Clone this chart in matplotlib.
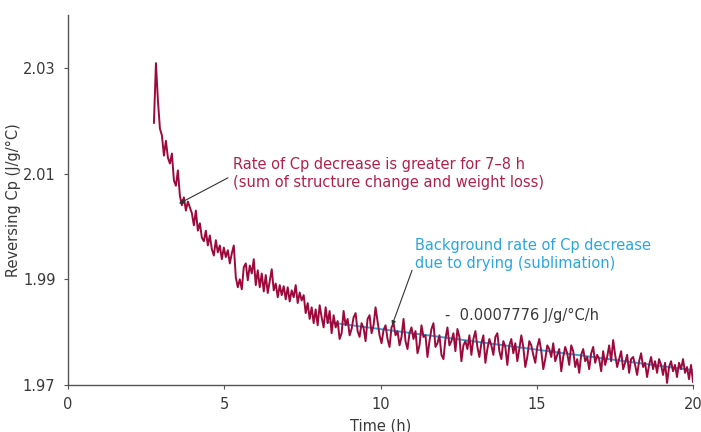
import matplotlib.pyplot as plt
import numpy as np

# reversing Cp trace, evenly sampled from 2.75 h to 20 h
cp = [
    2.0196, 2.0309, 2.0238, 2.0185, 2.0172, 2.0134, 2.0162, 2.0130, 2.0119, 2.0138,
    2.0087, 2.0077, 2.0106, 2.0058, 2.0040, 2.0055, 2.0030, 2.0047, 2.0036, 2.0025,
    2.0002, 2.0030, 1.9992, 2.0006, 1.9979, 1.9972, 1.9992, 1.9964, 1.9983, 1.9957,
    1.9945, 1.9974, 1.9951, 1.9964, 1.9938, 1.9960, 1.9942, 1.9955, 1.9930, 1.9949,
    1.9964, 1.9904, 1.9885, 1.9900, 1.9881, 1.9923, 1.9930, 1.9898, 1.9926, 1.9911,
    1.9938, 1.9889, 1.9917, 1.9885, 1.9911, 1.9877, 1.9908, 1.9874, 1.9896, 1.9919,
    1.9879, 1.9892, 1.9866, 1.9889, 1.9870, 1.9887, 1.9862, 1.9885, 1.9858, 1.9879,
    1.9866, 1.9889, 1.9855, 1.9875, 1.9860, 1.9870, 1.9836, 1.9855, 1.9825, 1.9847,
    1.9817, 1.9843, 1.9813, 1.9851, 1.9828, 1.9809, 1.9847, 1.9817, 1.9840, 1.9798,
    1.9832, 1.9809, 1.9821, 1.9787, 1.9798, 1.9840, 1.9813, 1.9825, 1.9794, 1.9806,
    1.9828, 1.9836, 1.9802, 1.9791, 1.9817, 1.9808, 1.9783, 1.9825, 1.9832, 1.9798,
    1.9813, 1.9847, 1.9821, 1.9794, 1.9779, 1.9804, 1.9813, 1.9787, 1.9772, 1.9809,
    1.9817, 1.9794, 1.9802, 1.9775, 1.9791, 1.9825, 1.9783, 1.9768, 1.9798, 1.9809,
    1.9787, 1.9802, 1.9760, 1.9775, 1.9813, 1.9791, 1.9794, 1.9753, 1.9783, 1.9806,
    1.9817, 1.9772, 1.9779, 1.9794, 1.9757, 1.9749, 1.9787, 1.9809, 1.9775, 1.9783,
    1.9798, 1.9764, 1.9806, 1.9791, 1.9745, 1.9775, 1.9783, 1.9768, 1.9794, 1.9757,
    1.9787, 1.9802, 1.9772, 1.9753, 1.9779, 1.9794, 1.9742, 1.9768, 1.9787, 1.9775,
    1.9757, 1.9791, 1.9798, 1.9764, 1.9749, 1.9783, 1.9772, 1.9738, 1.9775, 1.9787,
    1.9760, 1.9779, 1.9745, 1.9768, 1.9794, 1.9772, 1.9734, 1.9753, 1.9783, 1.9775,
    1.9757, 1.9742, 1.9772, 1.9787, 1.9764, 1.9730, 1.9749, 1.9775, 1.9768, 1.9753,
    1.9779, 1.9745, 1.9757, 1.9768, 1.9726, 1.9753, 1.9772, 1.9760, 1.9738, 1.9775,
    1.9764, 1.9734, 1.9749, 1.9723, 1.9757, 1.9768, 1.9745, 1.9753, 1.9730, 1.9760,
    1.9772, 1.9742, 1.9757, 1.9749, 1.9726, 1.9764, 1.9738, 1.9753, 1.9775, 1.9745,
    1.9785, 1.9757, 1.9734, 1.9749, 1.9764, 1.9730, 1.9742, 1.9757, 1.9723, 1.9749,
    1.9753, 1.9738, 1.9719, 1.9745, 1.9760, 1.9734, 1.9742, 1.9715, 1.9738, 1.9753,
    1.9730, 1.9745, 1.9723, 1.9749, 1.9738, 1.9719, 1.9742, 1.9704, 1.9734, 1.9745,
    1.9726, 1.9738, 1.9715, 1.9742, 1.9730, 1.9749, 1.9723, 1.9734, 1.9711, 1.9738,
    1.9706,
]
time = np.linspace(2.75, 20.0, len(cp))

# linear background fit (slope -0.0007776 J/g/°C/h)
fit_time = [8.3, 20.0]
fit_cp = [1.9819, 1.9728]

xticks = [0, 5, 10, 15, 20]
yticks = [1.97, 1.99, 2.01, 2.03]

red = '#9c0a3b'
blue = '#2aa7df'
grey = '#3a3a3a'

fig = plt.figure(figsize=(7.01, 4.32), dpi=100)
ax = fig.add_axes([0.097, 0.1088, 0.8916, 0.8565])

ax.plot(fit_time, fit_cp, color=blue, lw=1.4, zorder=2)
ax.plot(time, cp, color=red, lw=1.4, zorder=3)

ax.set_xlim(0, 20)
ax.set_ylim(1.97, 2.04)
ax.set_xticks(xticks)
ax.set_yticks(yticks)
ax.set_yticklabels(['%.2f' % v for v in yticks])

for s in ['top', 'right']:
    ax.spines[s].set_visible(False)
for s in ['left', 'bottom']:
    ax.spines[s].set_color('#555555')
    ax.spines[s].set_linewidth(1.0)
ax.tick_params(length=3, width=0.8, color='#555555', labelcolor=grey, labelsize=10.5, pad=6)

ax.set_xlabel('Time (h)', color=grey, fontsize=10.5, labelpad=4)
ax.set_ylabel('Reversing Cp (J/g/°C)', color=grey, fontsize=10.5, labelpad=1)

ax.text(5.28, 2.0100, 'Rate of Cp decrease is greater for 7–8 h\n(sum of structure change and weight loss)',
        color='#b0214c', fontsize=10.5, ha='left', va='center', linespacing=1.25)
ax.annotate('', xy=(3.55, 2.0043), xytext=(5.12, 2.0092),
            arrowprops=dict(arrowstyle='-|>', color='#333333', lw=0.8, mutation_scale=7,
                            shrinkA=0, shrinkB=0))

ax.text(11.10, 1.9947, 'Background rate of Cp decrease\ndue to drying (sublimation)',
        color=blue, fontsize=10.5, ha='left', va='center', linespacing=1.25)
ax.annotate('', xy=(10.37, 1.9813), xytext=(11.01, 1.9917),
            arrowprops=dict(arrowstyle='-|>', color='#333333', lw=0.8, mutation_scale=6,
                            shrinkA=0, shrinkB=0))

ax.text(12.06, 1.9832, '-  0.0007776 J/g/°C/h', color=grey, fontsize=10.5, ha='left', va='center')

fig.savefig('out.png', dpi=100)
